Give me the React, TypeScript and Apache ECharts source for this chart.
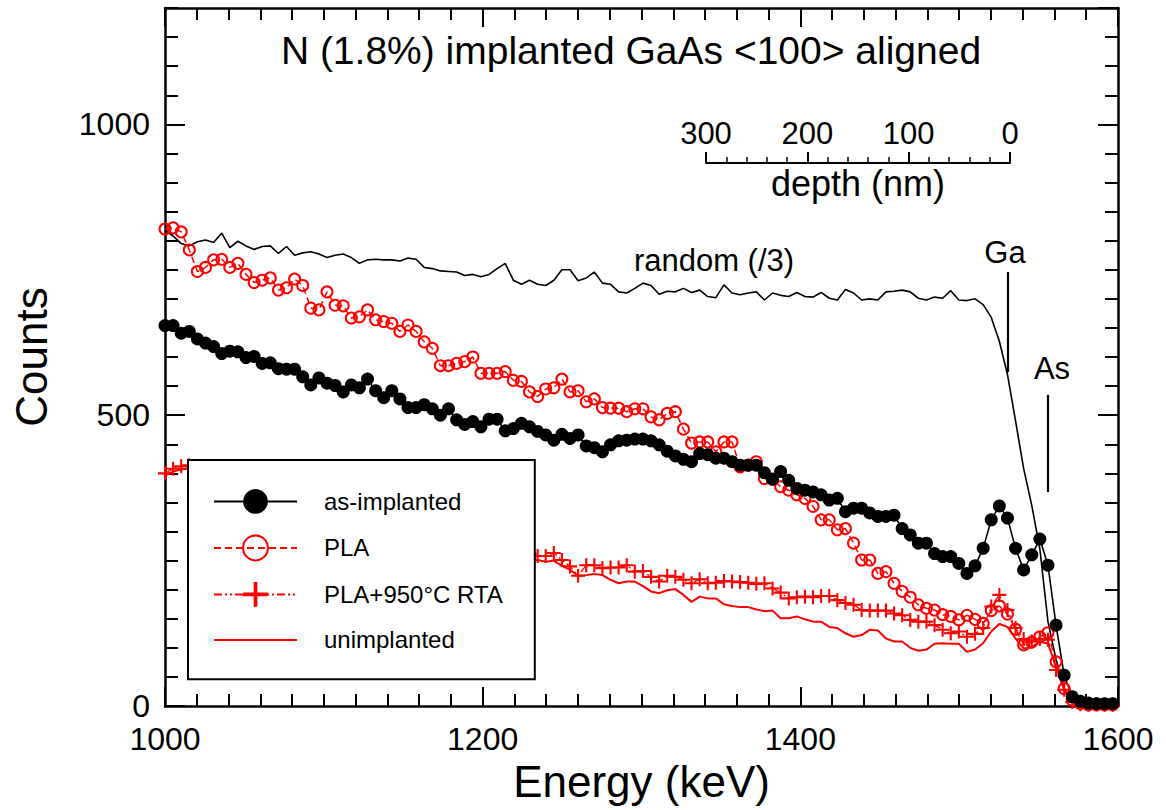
import React, { useEffect, useRef } from "react";
import * as echarts from "echarts";

// Channel energies (keV)
const energy = [
  1000, 1005.1, 1010.2, 1015.3, 1020.4, 1025.5, 1030.6, 1035.7, 1040.8, 1045.9,
  1051, 1056.1, 1061.2, 1066.3, 1071.4, 1076.5, 1081.6, 1086.7, 1091.8, 1096.9,
  1102, 1107.1, 1112.2, 1117.3, 1122.4, 1127.5, 1132.6, 1137.7, 1142.8, 1147.9,
  1153, 1158.1, 1163.2, 1168.3, 1173.4, 1178.5, 1183.6, 1188.7, 1193.8, 1198.9,
  1204, 1209.1, 1214.2, 1219.3, 1224.4, 1229.5, 1234.6, 1239.7, 1244.8, 1249.9,
  1255, 1260.1, 1265.2, 1270.3, 1275.4, 1280.5, 1285.6, 1290.7, 1295.8, 1300.9,
  1306, 1311.1, 1316.2, 1321.3, 1326.4, 1331.5, 1336.6, 1341.7, 1346.8, 1351.9,
  1357, 1362.1, 1367.2, 1372.3, 1377.4, 1382.5, 1387.6, 1392.7, 1397.8, 1402.9,
  1408, 1413.1, 1418.2, 1423.3, 1428.4, 1433.5, 1438.6, 1443.7, 1448.8, 1453.9,
  1459, 1464.1, 1469.2, 1474.3, 1479.4, 1484.5, 1489.6, 1494.7, 1499.8, 1504.9,
  1510, 1515.1, 1520.2, 1525.3, 1530.4, 1535.5, 1540.6, 1545.7, 1550.8, 1555.9,
  1561, 1566.1, 1571.2, 1576.3, 1581.4, 1586.5, 1591.6, 1596.7,
];

// random spectrum divided by 3
const randomDiv3 = [
  818, 808, 795, 791, 798, 801, 797, 813, 788, 799,
  791, 785, 790, 791, 778, 790, 775, 779, 781, 777,
  771, 775, 777, 771, 761, 767, 768, 767, 767, 765,
  770, 768, 754, 752, 748, 747, 746, 740, 742, 738,
  742, 752, 761, 732, 725, 732, 725, 723, 732, 750,
  750, 731, 736, 746, 727, 725, 712, 710, 718, 727,
  723, 708, 713, 712, 718, 711, 715, 704, 702, 724,
  710, 707, 710, 712, 698, 710, 706, 704, 711, 704,
  703, 711, 701, 698, 716, 710, 698, 700, 698, 712,
  713, 715, 712, 701, 698, 703, 701, 714, 698, 697,
  700, 690, 668, 627, 570, 490, 408, 345, 270, 145,
  80, 30, 8, 3, 2, 2, 2, 2,
];

const asImplanted = [
  654, 654, 641, 644, 631, 624, 618, 606, 610, 609,
  599, 601, 589, 590, 580, 579, 579, 566, 552, 564,
  555, 551, 540, 552, 547, 562, 542, 530, 542, 528,
  513, 513, 518, 511, 500, 511, 492, 484, 489, 480,
  493, 493, 473, 477, 486, 480, 472, 466, 457, 467,
  460, 466, 447, 444, 437, 449, 456, 457, 459, 459,
  456, 449, 438, 430, 424, 420, 434, 432, 426, 426,
  420, 414, 414, 414, 401, 390, 403, 388, 374, 371,
  368, 363, 354, 357, 334, 340, 340, 332, 326, 326,
  328, 305, 294, 280, 280, 262, 257, 257, 245, 228,
  241, 271, 320, 344, 323, 271, 234, 260, 287, 242,
  139, 53, 16, 8, 5, 4, 4, 4,
];

const pla = [
  820, 822, 815, 784, 747, 754, 767, 768, 754, 761,
  742, 728, 732, 736, 715, 719, 734, 723, 684, 681,
  712, 689, 688, 667, 669, 681, 664, 661, 658, 644,
  655, 644, 626, 615, 585, 585, 589, 592, 600, 572,
  572, 572, 575, 560, 558, 540, 532, 545, 547, 562,
  540, 542, 523, 528, 513, 512, 512, 506, 511, 511,
  497, 492, 503, 506, 476, 452, 454, 454, 437, 454,
  454, 411, 414, 420, 391, 390, 377, 371, 363, 357,
  343, 320, 320, 303, 305, 280, 251, 251, 228, 231,
  211, 197, 187, 174, 168, 165, 157, 154, 148, 156,
  149, 142, 164, 172, 158, 132, 105, 110, 119, 126,
  76, 30, 10, 4, 2, 2, 2, 2,
];

// values hidden behind the legend box are left empty (null)
const plaRta = [
  400, 408, 412, 414, null, null, null, null, null, null,
  null, null, null, null, null, null, null, null, null, null,
  null, null, null, null, null, null, null, null, null, null,
  null, null, null, null, null, null, null, null, null, null,
  null, null, null, null, null, 262, 258, 258, 263, 251,
  240, 224, 242, 242, 237, 238, 238, 242, 231, 232,
  222, 214, 224, 222, 217, 211, 218, 211, 212, 215,
  214, 213, 212, 210, 211, 202, 195, 185, 187, 188,
  187, 189, 189, 182, 177, 174, 165, 164, 164, 164,
  159, 156, 148, 145, 145, 139, 131, 125, 128, 119,
  124, 134, 171, 191, 165, 134, 115, 111, 115, 114,
  62, 28, 7, 3, 2, 3, 2, 2,
];

const unimplanted = [
  396, 403, 407, 408, null, null, null, null, null, null,
  null, null, null, null, null, null, null, null, null, null,
  null, null, null, null, null, null, null, null, null, null,
  null, null, null, null, null, null, null, null, null, null,
  null, null, null, null, null, 252, 251, 248, 250, 241,
  234, 224, 225, 227, 225, 217, 211, 214, 214, 206,
  197, 194, 199, 201, 191, 179, 188, 185, 185, 175,
  172, 170, 170, 166, 163, 164, 151, 151, 154, 149,
  145, 145, 136, 134, 125, 119, 122, 131, 130, 116,
  111, 111, 100, 95, 97, 107, 108, 107, 107, 93,
  97, 108, 128, 141, 136, 116, 99, 101, 111, 107,
  68, 28, 7, 3, 2, 2, 2, 2,
];

const legendNames = ["as-implanted", "PLA", "PLA+950°C RTA", "unimplanted"];

// edge markers: [energy, countFrom, countTo]
const gaMarker = [1530.7, 746, 574];
const asMarker = [1555.9, 535, 368];

const FONT = "'Liberation Sans', Arial, Helvetica, sans-serif";
const BLACK = "#000";
const RED = "#ff0000";
const CLEAR = "rgba(0,0,0,0)";

const pair = (arr: (number | null)[]) =>
  energy.map((e, i) => [e, arr[i] === null ? null : arr[i]]);

const PLUS =
  "path://M-1.5,-10L1.5,-10L1.5,-1.5L10,-1.5L10,1.5L1.5,1.5L1.5,10L-1.5,10L-1.5,1.5L-10,1.5L-10,-1.5L-1.5,-1.5Z";

const plain = (v: number) => String(v);

export default function App() {
  const ref = useRef<HTMLDivElement>(null);

  useEffect(() => {
    if (!ref.current) return;
    const chart = echarts.init(ref.current, null, { renderer: "svg" });

    const axisLine = { show: true, onZero: false, lineStyle: { color: BLACK, width: 2.5 } };
    const xCommon = {
      type: "value",
      min: 1000,
      max: 1600,
      interval: 200,
      gridIndex: 0,
      axisLine,
      axisTick: { show: true, inside: true, length: 19, lineStyle: { color: BLACK, width: 2 } },
      minorTick: { show: true, splitNumber: 10, length: 12, lineStyle: { color: BLACK, width: 2 } },
      splitLine: { show: false },
      minorSplitLine: { show: false },
    };
    const yMajor = {
      type: "value",
      min: 0,
      max: 1200,
      interval: 500,
      gridIndex: 0,
      axisLine,
      axisTick: { show: true, inside: true, length: 20, lineStyle: { color: BLACK, width: 2 } },
      splitLine: { show: false },
    };
    const yMinor = {
      type: "value",
      min: 0,
      max: 1200,
      interval: 50,
      gridIndex: 0,
      axisLine: { show: false },
      axisTick: { show: true, inside: true, length: 13, lineStyle: { color: BLACK, width: 2 } },
      axisLabel: { show: false },
      splitLine: { show: false },
    };

    const option: any = {
      animation: false,
      backgroundColor: "#fff",
      textStyle: { fontFamily: FONT },
      grid: [
        { left: 165, top: 8, width: 953, height: 698 },
        { left: 706, top: 150, width: 304, height: 13 },
      ],
      xAxis: [
        {
          ...xCommon,
          position: "bottom",
          axisLabel: {
            show: true,
            fontSize: 32,
            color: BLACK,
            margin: 17,
            fontFamily: FONT,
            formatter: plain,
          },
          name: "Energy (keV)",
          nameLocation: "middle",
          nameGap: 48,
          nameTextStyle: { fontSize: 44, color: BLACK, fontFamily: FONT },
        },
        { ...xCommon, position: "top", axisLabel: { show: false } },
        {
          type: "value",
          gridIndex: 1,
          min: 0,
          max: 300,
          interval: 100,
          inverse: true,
          position: "bottom",
          axisLine: { show: true, onZero: false, lineStyle: { color: BLACK, width: 2 } },
          axisTick: { show: true, inside: true, length: 11, lineStyle: { color: BLACK, width: 2 } },
          minorTick: { show: true, splitNumber: 5, length: 6, lineStyle: { color: BLACK, width: 1.5 } },
          axisLabel: {
            show: true,
            inside: true,
            margin: 14,
            fontSize: 31,
            color: BLACK,
            fontFamily: FONT,
            formatter: plain,
          },
          splitLine: { show: false },
          minorSplitLine: { show: false },
          name: "depth (nm)",
          nameLocation: "middle",
          nameGap: 2,
          nameTextStyle: { fontSize: 36, color: BLACK, fontFamily: FONT, verticalAlign: "top" },
        },
      ],
      yAxis: [
        {
          ...yMajor,
          position: "left",
          axisLabel: {
            show: true,
            showMaxLabel: false,
            fontSize: 32,
            color: BLACK,
            margin: 15,
            fontFamily: FONT,
            formatter: plain,
          },
          name: "Counts",
          nameLocation: "middle",
          nameGap: 112,
          nameRotate: 90,
          nameTextStyle: { fontSize: 44, color: BLACK, fontFamily: FONT },
        },
        { ...yMinor, position: "left" },
        { ...yMajor, position: "right", axisLabel: { show: false } },
        { ...yMinor, position: "right" },
        { type: "value", gridIndex: 1, show: false, min: 0, max: 1 },
      ],
      legend: {
        show: true,
        data: [
          legendNames[0],
          legendNames[1],
          legendNames[2],
          {
            name: legendNames[3],
            itemStyle: { color: CLEAR, borderColor: CLEAR, borderWidth: 0 },
          },
        ],
        orient: "vertical",
        left: 188,
        top: 460,
        itemWidth: 83,
        itemHeight: 31,
        itemGap: 20.7,
        padding: [29, 32, 27, 25],
        borderColor: BLACK,
        borderWidth: 2,
        backgroundColor: "#fff",
        selectedMode: false,
        textStyle: { fontSize: 24, color: BLACK, fontFamily: FONT, padding: [0, 0, 0, 22] },
      },
      series: [
        {
          name: "random (/3)",
          type: "line",
          xAxisIndex: 0,
          yAxisIndex: 0,
          data: pair(randomDiv3),
          showSymbol: false,
          symbol: "none",
          lineStyle: { color: BLACK, width: 1.6 },
          itemStyle: { color: BLACK },
          silent: true,
          markLine: {
            silent: true,
            symbol: ["none", "none"],
            label: { show: false },
            lineStyle: { color: BLACK, width: 2.2, type: "solid" },
            data: [
              [{ coord: [gaMarker[0], gaMarker[1]] }, { coord: [gaMarker[0], gaMarker[2]] }],
              [{ coord: [asMarker[0], asMarker[1]] }, { coord: [asMarker[0], asMarker[2]] }],
            ],
          },
        },
        {
          name: "unimplanted",
          type: "line",
          xAxisIndex: 0,
          yAxisIndex: 0,
          data: pair(unimplanted),
          symbol: "none",
          showSymbol: false,
          lineStyle: { color: RED, width: 2 },
          itemStyle: { color: RED },
          silent: true,
        },
        {
          name: "PLA+950°C RTA",
          type: "line",
          xAxisIndex: 0,
          yAxisIndex: 0,
          data: pair(plaRta),
          symbol: PLUS,
          symbolSize: 14,
          showSymbol: true,
          lineStyle: { color: RED, width: 1.3, type: [8, 3, 2, 3, 2, 3] },
          itemStyle: { color: RED },
          silent: true,
        },
        {
          name: "PLA",
          type: "line",
          xAxisIndex: 0,
          yAxisIndex: 0,
          data: pair(pla),
          symbol: "circle",
          symbolSize: 11,
          showSymbol: true,
          lineStyle: { color: RED, width: 1.5, type: [7, 4] },
          itemStyle: { color: "rgba(255,255,255,0)", borderColor: RED, borderWidth: 2 },
          silent: true,
        },
        {
          name: "as-implanted",
          type: "line",
          xAxisIndex: 0,
          yAxisIndex: 0,
          data: pair(asImplanted),
          symbol: "circle",
          symbolSize: 13,
          showSymbol: true,
          lineStyle: { color: BLACK, width: 1.6 },
          itemStyle: { color: BLACK },
          silent: true,
        },
      ],
      graphic: [
        {
          type: "text",
          x: 631,
          y: 50,
          style: {
            text: "N (1.8%) implanted GaAs <100> aligned",
            fontSize: 39,
            fontFamily: FONT,
            fill: BLACK,
            textAlign: "center",
            textVerticalAlign: "middle",
          },
        },
        {
          type: "text",
          x: 714,
          y: 260,
          style: {
            text: "random (/3)",
            fontSize: 31,
            fontFamily: FONT,
            fill: BLACK,
            textAlign: "center",
            textVerticalAlign: "middle",
          },
        },
        {
          type: "text",
          x: 1005,
          y: 252,
          style: {
            text: "Ga",
            fontSize: 31,
            fontFamily: FONT,
            fill: BLACK,
            textAlign: "center",
            textVerticalAlign: "middle",
          },
        },
        {
          type: "text",
          x: 1052,
          y: 368,
          style: {
            text: "As",
            fontSize: 31,
            fontFamily: FONT,
            fill: BLACK,
            textAlign: "center",
            textVerticalAlign: "middle",
          },
        },
      ],
    };

    chart.setOption(option);
    return () => {
      chart.dispose();
    };
  }, []);

  return (
    <div
      ref={ref}
      style={{ position: "fixed", left: 0, top: 0, width: 1166, height: 810, background: "#fff" }}
    />
  );
}
